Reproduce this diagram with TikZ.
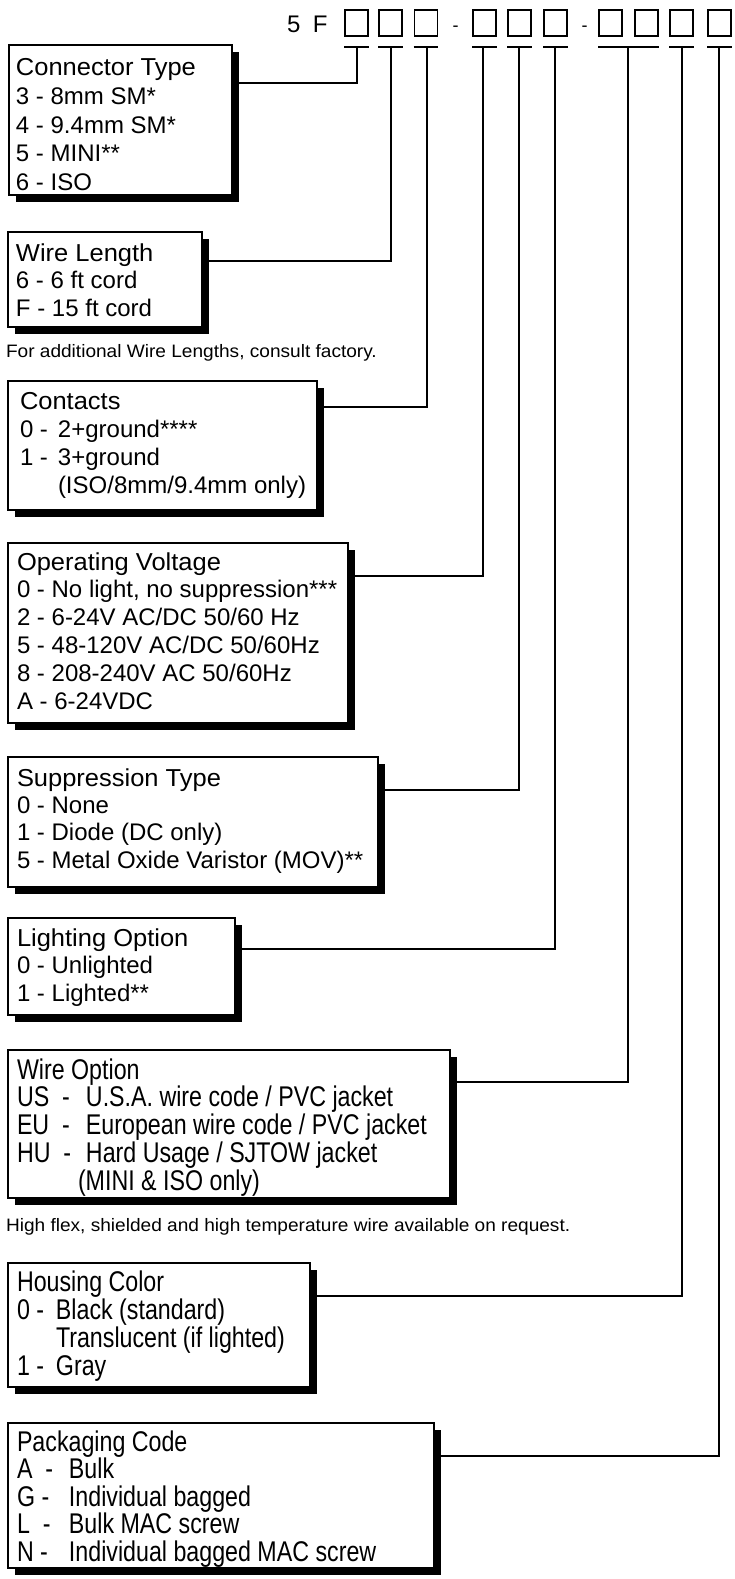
\documentclass[tikz,border=0pt]{standalone}
\usepackage{fontspec}
\setmainfont{Liberation Sans}
\newfontfamily\titlef{Liberation Sans}[FakeStretch=1.04]
\newfontfamily\condf{Liberation Sans}[FakeStretch=0.815]
\newfontfamily\notef{Liberation Sans}[FakeStretch=1.06]
\usetikzlibrary{shadows}
\newcommand\rows[2]{\vtop{\baselineskip=#1\relax\lineskiplimit=-200pt\relax\lineskip=0pt\relax\halign{##\hfil\cr#2\crcr}}}
\newcommand\hang[2]{\makebox[#1][l]{#2}}
\newcommand\ttl[1]{{\titlef\fontsize{24.5}{28}\selectfont #1}}
\begin{document}
\begin{tikzpicture}[x=1pt,y=-1pt,
  optbox/.style={rectangle, draw, line width=2pt, fill=white, anchor=north west,
    inner sep=0pt, outer sep=0pt,
    drop shadow={shadow xshift=7pt, shadow yshift=-7pt, fill=black, opacity=1}},
  codesq/.style={rectangle, draw, line width=1.8pt, minimum width=23pt, minimum height=26pt, inner sep=0pt},
  lbl/.style={anchor=base west, inner sep=0pt, outer sep=0pt},
  reg/.style={font=\fontsize{24}{28}\selectfont},
  cond/.style={font=\condf\fontsize{28.5}{28}\selectfont},
  note/.style={font=\notef\fontsize{18}{20}\selectfont},
  wire/.style={line width=2pt},
]
\useasboundingbox (0,0) rectangle (735,1579);

% ---- code header ----
\node[lbl, reg] (code) at (287,33) {5\hspace{12.5pt}F};
\foreach \n/\x in {1/356.5,2/390.5,3/426,4/484.5,5/519.5,6/555.5,7/610.5,8/646.5,9/681.5,10/719.5}
  \node[codesq] (sq\n) at (\x,23) {};
\node[anchor=base, inner sep=0pt, font=\fontsize{18}{20}\selectfont] (dash1) at (455.5,32) {-};
\node[anchor=base, inner sep=0pt, font=\fontsize{18}{20}\selectfont] (dash2) at (584.5,32) {-};

\foreach \n/\x in {1/357,2/391,3/427,4/483,5/519,6/555,7/628,8/682,9/719}
  \coordinate (s\n) at (\x,47);

\draw[wire] (sq1.south west |- s1) -- (sq1.south east |- s1);
\draw[wire] (sq2.south west |- s2) -- (sq2.south east |- s2);
\draw[wire] (sq3.south west |- s3) -- (sq3.south east |- s3);
\draw[wire] (sq4.south west |- s4) -- (sq4.south east |- s4);
\draw[wire] (sq5.south west |- s5) -- (sq5.south east |- s5);
\draw[wire] (sq6.south west |- s6) -- (sq6.south east |- s6);
\draw[wire] (sq7.south west |- s7) -- (sq8.south east |- s7);
\draw[wire] (sq9.south west |- s8) -- (sq9.south east |- s8);
\draw[wire] (sq10.south west |- s9) -- (sq10.south east |- s9);

% ---- option boxes ----
\node[optbox, minimum width=223pt, minimum height=150pt] (b1) at (9,45) {};
\node[lbl, reg] (l1) at ([xshift=7pt,yshift=-31pt]b1.north west)
  {\rows{28.6pt}{\ttl{Connector Type}\cr 3 - 8mm SM*\cr 4 - 9.4mm SM*\cr 5 - MINI**\cr 6 - ISO}};

\node[optbox, minimum width=194pt, minimum height=95pt] (b2) at (8,232) {};
\node[lbl, reg] (l2) at ([xshift=8pt,yshift=-29pt]b2.north west)
  {\rows{27.6pt}{\ttl{Wire Length}\cr 6 - 6 ft cord\cr F - 15 ft cord}};

\node[lbl, note] (n1) at (6,357) {For additional Wire Lengths, consult factory.};

\node[optbox, minimum width=309pt, minimum height=129pt] (b3) at (8,381) {};
\node[lbl, reg] (l3) at ([xshift=12pt,yshift=-28pt]b3.north west)
  {\rows{28pt}{\ttl{Contacts}\cr \hang{38pt}{0 -}2+ground****\cr \hang{38pt}{1 -}3+ground\cr \hspace*{38pt}(ISO/8mm/9.4mm only)}};

\node[optbox, minimum width=340pt, minimum height=180pt] (b4) at (8,543) {};
\node[lbl, reg] (l4) at ([xshift=9pt,yshift=-27pt]b4.north west)
  {\rows{27.8pt}{\ttl{Operating Voltage}\cr 0 - No light, no suppression***\cr 2 - 6-24V AC/DC 50/60 Hz\cr 5 - 48-120V AC/DC 50/60Hz\cr 8 - 208-240V AC 50/60Hz\cr A - 6-24VDC}};

\node[optbox, minimum width=370pt, minimum height=130pt] (b5) at (8,757) {};
\node[lbl, reg] (l5) at ([xshift=9pt,yshift=-29pt]b5.north west)
  {\rows{27.4pt}{\ttl{Suppression Type}\cr 0 - None\cr 1 - Diode (DC only)\cr 5 - Metal Oxide Varistor (MOV)**}};

\node[optbox, minimum width=227pt, minimum height=97pt] (b6) at (8,918) {};
\node[lbl, reg] (l6) at ([xshift=9pt,yshift=-28pt]b6.north west)
  {\rows{27.6pt}{\ttl{Lighting Option}\cr 0 - Unlighted\cr 1 - Lighted**}};

\node[optbox, minimum width=442pt, minimum height=148pt] (b7) at (8,1050) {};
\node[lbl, cond] (l7) at ([xshift=9pt,yshift=-29pt]b7.north west)
  {\rows{27.8pt}{Wire Option\cr \hang{69pt}{US\ \ -}U.S.A. wire code / PVC jacket\cr \hang{69pt}{EU\ \ -}European wire code / PVC jacket\cr \hang{69pt}{HU\ \ -}Hard Usage / SJTOW jacket\cr \hspace*{61pt}(MINI \& ISO only)}};

\node[lbl, note] (n2) at (6,1231) {High flex, shielded and high temperature wire available on request.};

\node[optbox, minimum width=302pt, minimum height=124pt] (b8) at (8,1263) {};
\node[lbl, cond] (l8) at ([xshift=9pt,yshift=-28pt]b8.north west)
  {\rows{28pt}{Housing Color\cr \hang{39pt}{0 -}Black (standard)\cr \hspace*{39pt}Translucent (if lighted)\cr \hang{39pt}{1 -}Gray}};

\node[optbox, minimum width=426pt, minimum height=145pt] (b9) at (8,1423) {};
\node[lbl, cond] (l9) at ([xshift=9pt,yshift=-28pt]b9.north west)
  {\rows{27.5pt}{Packaging Code\cr \hang{52pt}{A\ \ -}Bulk\cr \hang{52pt}{G -}Individual bagged\cr \hang{52pt}{L\ \ -}Bulk MAC screw\cr \hang{52pt}{N -}Individual bagged MAC screw}};

% ---- connectors ----
\draw[wire] ([yshift=-38pt]b1.north east) -| (s1);
\draw[wire] ([yshift=-29pt]b2.north east) -| (s2);
\draw[wire] ([yshift=-26pt]b3.north east) -| (s3);
\draw[wire] ([yshift=-33pt]b4.north east) -| (s4);
\draw[wire] ([yshift=-33pt]b5.north east) -| (s5);
\draw[wire] ([yshift=-31pt]b6.north east) -| (s6);
\draw[wire] ([yshift=-32pt]b7.north east) -| (s7);
\draw[wire] ([yshift=-33pt]b8.north east) -| (s8);
\draw[wire] ([yshift=-33pt]b9.north east) -| (s9);
\end{tikzpicture}
\end{document}
